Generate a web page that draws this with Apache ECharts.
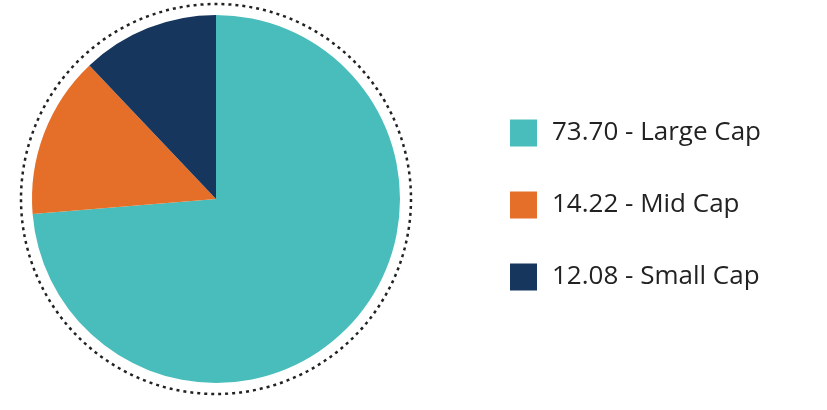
<!DOCTYPE html>
<html lang="en">
<head>
    <meta charset="UTF-8">
    <title>Market Cap</title>
    <script src="https://cdn.jsdelivr.net/npm/echarts@6/dist/echarts.min.js"></script>
    <style>
        * { margin: 0; padding: 0 }
        html, body { height: 100%; background: #fff; }
    </style>
</head>
<body>
    <div id="main" style="width:827px;height:410px"></div>
    <script>
        var names = ['Large Cap', 'Mid Cap', 'Small Cap'];
        var values = [73.70, 14.22, 12.08];
        var colors = ['#48bdbc', '#e56f28', '#16365d'];

        var data = names.map(function (n, i) {
            return { name: n, value: values[i], itemStyle: { color: colors[i] } };
        });

        echarts.init(document.getElementById('main')).setOption({
            animation: false,
            legend: {
                orient: 'vertical',
                left: 505,
                top: 'middle',
                itemWidth: 27,
                itemHeight: 27,
                itemGap: 45,
                icon: 'rect',
                textStyle: { fontSize: 26, color: '#222', fontFamily: 'Open Sans', padding: [0, 0, 0, 10] },
                formatter: function (n) {
                    var i = names.indexOf(n);
                    return values[i].toFixed(2) + ' - ' + n;
                }
            },
            graphic: [{
                type: 'circle',
                shape: { cx: 216, cy: 199, r: 195 },
                style: { fill: 'none', stroke: '#222', lineWidth: 2.5, lineDash: [3, 4] }
            }],
            series: [{
                type: 'pie',
                center: [216, 199],
                radius: [0, 184],
                startAngle: 90,
                clockwise: true,
                label: { show: false },
                labelLine: { show: false },
                itemStyle: { borderWidth: 0 },
                data: data
            }]
        });
    </script>
</body>
</html>
